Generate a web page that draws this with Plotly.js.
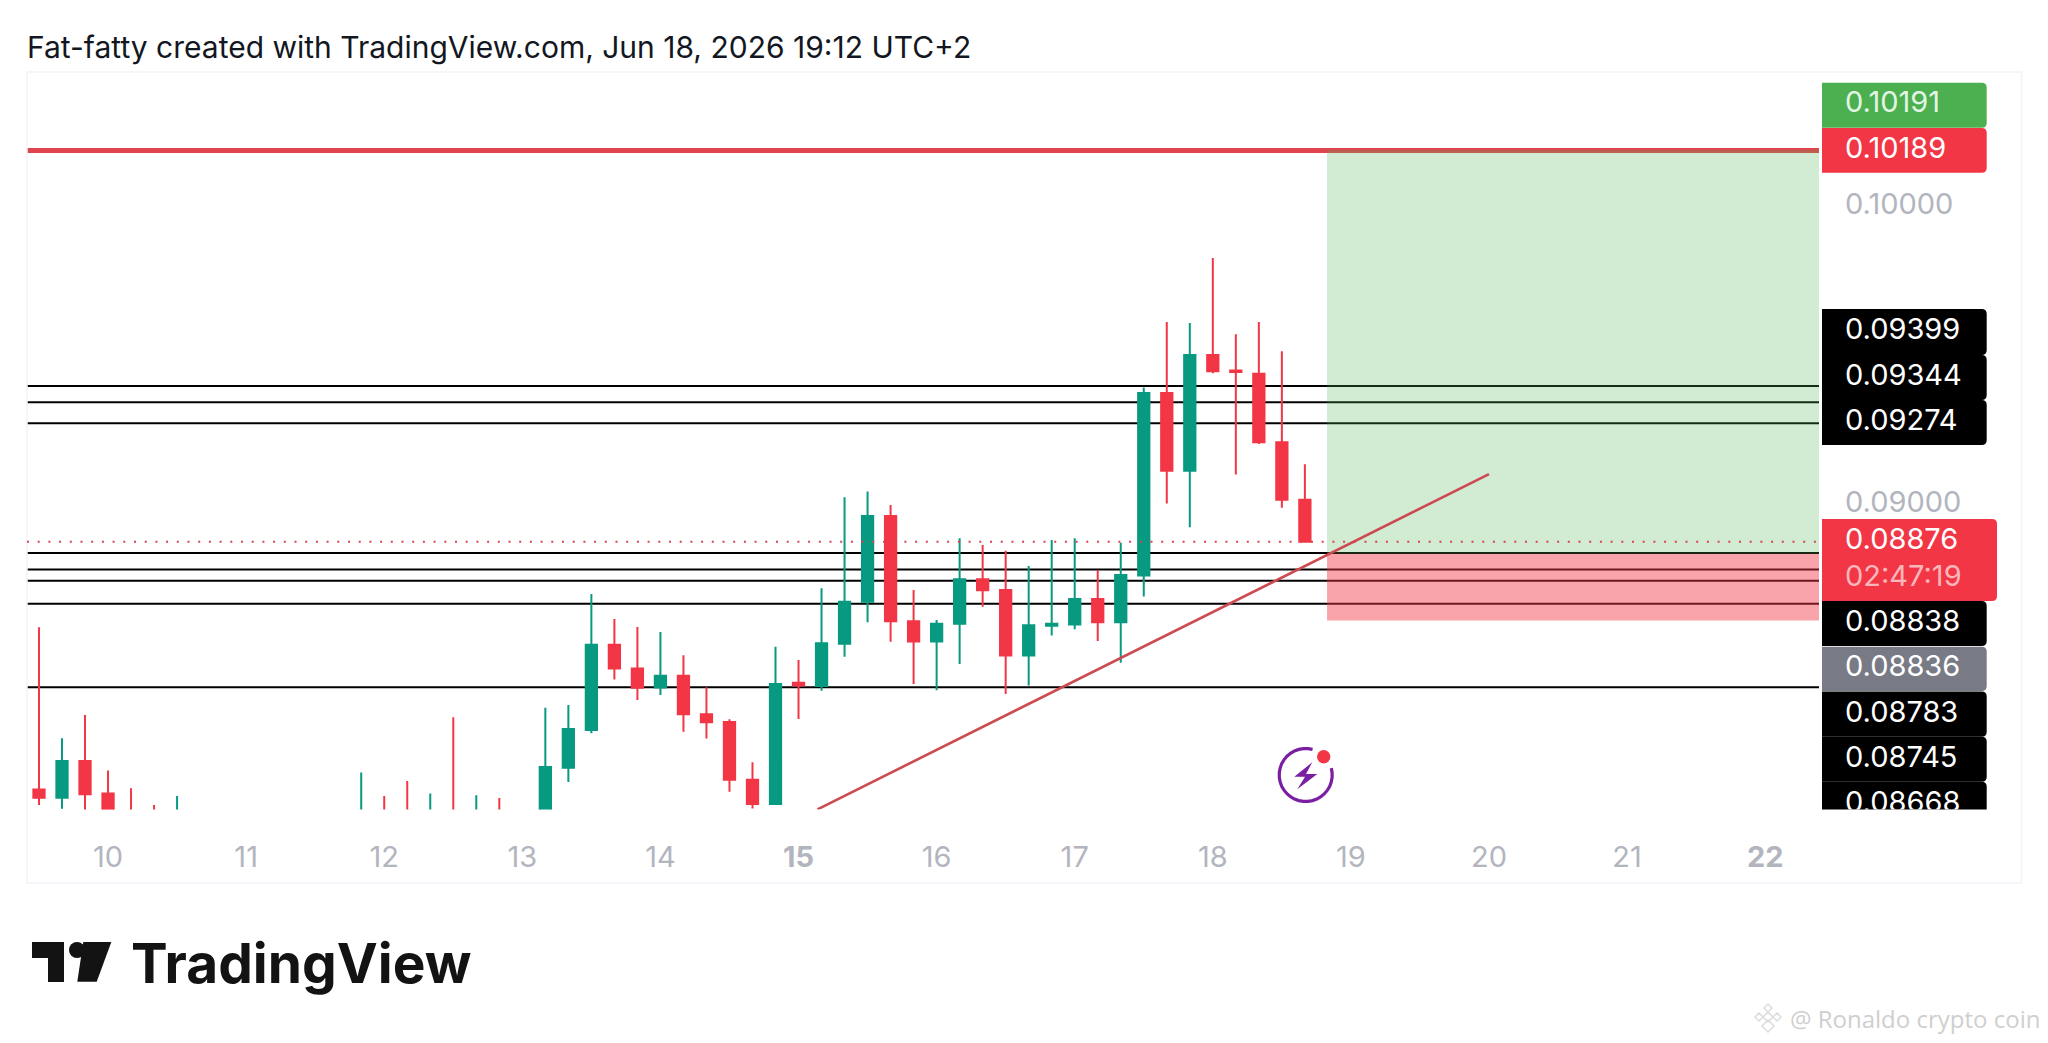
<!DOCTYPE html>
<html>
<head>
<meta charset="utf-8">
<script src="https://cdn.plot.ly/plotly-3.0.1.min.js"></script>
<style>html,body{margin:0;padding:0;background:#fff}#chart{width:2048px;height:1043px}</style>
</head>
<body>
<div id="chart"></div>
<script>
// ---- candles (4h) ----
const times = [
"2026-06-09 12:00","2026-06-09 16:00","2026-06-09 20:00","2026-06-10 00:00","2026-06-10 04:00","2026-06-10 08:00","2026-06-10 12:00",
"2026-06-11 20:00","2026-06-12 00:00","2026-06-12 04:00","2026-06-12 08:00","2026-06-12 12:00","2026-06-12 16:00","2026-06-12 20:00",
"2026-06-13 04:00","2026-06-13 08:00","2026-06-13 12:00","2026-06-13 16:00","2026-06-13 20:00",
"2026-06-14 00:00","2026-06-14 04:00","2026-06-14 08:00","2026-06-14 12:00","2026-06-14 16:00","2026-06-14 20:00",
"2026-06-15 00:00","2026-06-15 04:00","2026-06-15 08:00","2026-06-15 12:00","2026-06-15 16:00","2026-06-15 20:00",
"2026-06-16 00:00","2026-06-16 04:00","2026-06-16 08:00","2026-06-16 12:00","2026-06-16 16:00","2026-06-16 20:00",
"2026-06-17 00:00","2026-06-17 04:00","2026-06-17 08:00","2026-06-17 12:00","2026-06-17 16:00","2026-06-17 20:00",
"2026-06-18 00:00","2026-06-18 04:00","2026-06-18 08:00","2026-06-18 12:00","2026-06-18 16:00"];
const opens = [
.08045,.08017,.08140,.08031,.07960,.07960,.07950,
.07950,.07960,.07960,.07950,.07960,.07950,.07960,
.07950,.08118,.08244,.08530,.08451,
.08387,.08426,.08297,.08271,.08077,.07996,
.08403,.08392,.08534,.08675,.08962,.08609,
.08541,.08601,.08750,.08714,.08494,.08594,
.08598,.08684,.08606,.08763,.09375,.09114,
.09503,.09451,.09440,.09210,.09017];
const highs = [
.08589,.08217,.08295,.08108,.08049,.07993,.08023,
.08102,.08023,.08073,.08031,.08287,.08025,.08016,
.08319,.08328,.08701,.08617,.08590,
.08573,.08495,.08388,.08280,.08136,.08524,
.08479,.08720,.09025,.09045,.08999,.08714,
.08613,.08888,.08865,.08846,.08795,.08882,
.08888,.08781,.08873,.09394,.09613,.09610,
.09828,.09572,.09613,.09515,.09136];
const lows = [
.07993,.07980,.07950,.07950,.07940,.07940,.07940,
.07940,.07940,.07940,.07940,.07940,.07940,.07940,
.07940,.08070,.08233,.08414,.08345,
.08362,.08238,.08216,.08037,.07981,.07993,
.08281,.08376,.08490,.08606,.08540,.08399,
.08378,.08466,.08658,.08365,.08394,.08561,
.08582,.08543,.08470,.08692,.09004,.08925,
.09441,.09102,.09204,.08990,.08876];
const closes = [
.08017,.08140,.08029,.07970,.07950,.07950,.07960,
.07960,.07950,.07950,.07960,.07950,.07960,.07950,
.08120,.08248,.08530,.08451,.08386,
.08426,.08297,.08270,.08077,.07996,.08399,
.08394,.08535,.08675,.08962,.08609,.08541,
.08601,.08750,.08713,.08494,.08596,.08601,
.08684,.08606,.08764,.09375,.09114,.09503,
.09448,.09446,.09210,.09017,.08876];

// ---- axis ----
const dayTicks = ["2026-06-10","2026-06-11","2026-06-12","2026-06-13","2026-06-14","2026-06-15","2026-06-16","2026-06-17","2026-06-18","2026-06-19","2026-06-20","2026-06-21","2026-06-22"];
const dayLabels = ["10","11","12","13","14","<b>15</b>","16","17","18","19","20","21","<b>22</b>"];
const timeRange = ["2026-06-09 09:55","2026-06-22 09:21"];
const priceRange = [0.079775,0.104523];

// ---- drawings ----
const levels = [0.09399,0.09344,0.09274,0.08838,0.08783,0.08745,0.08668,0.08388];
const stopLine = 0.10189;
const lastPrice = 0.08876;
const targetPrice = 0.10191, entryPrice = 0.08836, stopPrice = 0.08612;
const positionStart = "2026-06-18 19:51";
const trendTimes = ["2026-06-15 03:18","2026-06-20 00:00"];
const trendPrices = [0.07978,0.09103];

// ---- price scale labels ----
const labelTexts = ["0.10191","0.10189","0.10000","0.09399","0.09344","0.09274","0.09000","0.08876","02:47:19","0.08838","0.08836","0.08783","0.08745","0.08668"];
const labelRows  = [105,150.5,207,332,378,423,505,541.5,579,624,669,714.5,759.5,805];
const labelInk   = ["#e3f5e4","#ffffff","#b2b5be","#ffffff","#ffffff","#ffffff","#b2b5be","#ffffff","#fbb6bc","#ffffff","#ffffff","#ffffff","#ffffff","#ffffff"];
const pills = [
  {c:"#4caf50",t:82.7,b:127.7,w:1986.7},
  {c:"#f23645",t:128,b:172.7,w:1986.7},
  {c:"#000000",t:309,b:355,w:1986.7},
  {c:"#000000",t:355,b:400,w:1986.7},
  {c:"#000000",t:400,b:445,w:1986.7},
  {c:"#f23645",t:519,b:601,w:1997},
  {c:"#000000",t:601,b:646,w:1986.7},
  {c:"#787b86",t:646.7,b:691,w:1986.7},
  {c:"#000000",t:691.5,b:736.7,w:1986.7},
  {c:"#000000",t:736.7,b:781.7,w:1986.7},
  {c:"#000000",t:781.7,b:830,w:1986.7}
];

const PX = x => x/2048, PY = y => 1 - y/1043;
function pxPath(pts, close){
  return pts.map((p,i)=>(i?'L':'M')+PX(p[0]).toFixed(5)+','+PY(p[1]).toFixed(5)).join(' ')+(close?' Z':'');
}
function pillPath(x0,x1,y0,y1,r){
  return `M${x0},${y0} L${x1-r},${y0} Q${x1},${y0} ${x1},${y0+r} L${x1},${y1-r} Q${x1},${y1} ${x1-r},${y1} L${x0},${y1} Z`;
}

const shapes = [];
levels.forEach(v=>shapes.push({type:'line',layer:'below',xref:'x domain',yref:'y',x0:0,x1:1,y0:v,y1:v,line:{color:'#000000',width:2}}));
shapes.push({type:'rect',layer:'below',xref:'x',yref:'y',x0:positionStart,x1:timeRange[1],y0:entryPrice,y1:targetPrice,fillcolor:'rgba(76,175,80,0.25)',line:{width:0}});
shapes.push({type:'rect',layer:'below',xref:'x',yref:'y',x0:positionStart,x1:timeRange[1],y0:stopPrice,y1:entryPrice,fillcolor:'rgba(242,54,69,0.45)',line:{width:0}});
shapes.push({type:'line',layer:'below',xref:'x domain',yref:'y',x0:0,x1:1,y0:stopLine,y1:stopLine,line:{color:'#e0454f',width:5}});
shapes.push({type:'line',layer:'above',xref:'x domain',yref:'y',x0:0,x1:1,y0:lastPrice,y1:lastPrice,line:{color:'#d9434f',width:2,dash:'2px,8.7px'}});
pills.forEach(p=>shapes.push({type:'path',layer:'below',xref:'x2',yref:'y2',path:pillPath(1822,p.w,p.t,p.b,5),fillcolor:p.c,line:{width:0}}));

// frame
shapes.push({type:'rect',layer:'below',xref:'paper',yref:'paper',x0:PX(27),x1:PX(2021.5),y0:PY(883),y1:PY(72),line:{color:'#f0f3fa',width:1.5},fillcolor:'rgba(0,0,0,0)'});

// TradingView mark
shapes.push({type:'path',xref:'paper',yref:'paper',fillcolor:'#131313',line:{width:0},path:pxPath([[32,942],[64,942],[64,982],[48,982],[48,958],[32,958]],true)});
shapes.push({type:'circle',xref:'paper',yref:'paper',x0:PX(69),x1:PX(85),y0:PY(958),y1:PY(942),fillcolor:'#131313',line:{width:0}});
shapes.push({type:'path',xref:'paper',yref:'paper',fillcolor:'#131313',line:{width:0},path:pxPath([[83.3,942],[111.3,942],[96.7,981.7],[77.3,981.7]],true)});

// lightning badge
const cx=1305.7, cy=775, rr=26.5, arc=[];
for(let a=-15;a>=-285;a-=9){arc.push([cx+rr*Math.cos(a*Math.PI/180),cy-rr*Math.sin(-a*Math.PI/180)*-1*-1]);}
const arcPts=[]; for(let a=-15;a<=285;a+=10){const t=a*Math.PI/180;arcPts.push([cx+rr*Math.cos(t),cy+rr*Math.sin(t)]);}
shapes.push({type:'path',xref:'paper',yref:'paper',path:pxPath(arcPts,false),fillcolor:'rgba(0,0,0,0)',line:{color:'#7b1fa2',width:3.2}});
shapes.push({type:'circle',xref:'paper',yref:'paper',x0:PX(1317),x1:PX(1330.4),y0:PY(763.4),y1:PY(750),fillcolor:'#f23645',line:{width:0}});
shapes.push({type:'path',xref:'paper',yref:'paper',fillcolor:'#7b1fa2',line:{width:0},
 path:pxPath([[1312.3,762.3],[1294.3,776.7],[1305,776.7],[1297.3,789.3],[1317.3,774],[1306,774]],true)});

// watermark icon
const wx=1768, wy=1017, wc='#dcdcdc';
[[0,0,5],[0,-9,4],[-9,0,4],[9,0,4],[0,9,6]].forEach(d=>{
  shapes.push({type:'path',xref:'paper',yref:'paper',fillcolor:'rgba(0,0,0,0)',line:{color:wc,width:1.5},
    path:pxPath([[wx+d[0],wy+d[1]-d[2]],[wx+d[0]+d[2],wy+d[1]],[wx+d[0],wy+d[1]+d[2]],[wx+d[0]-d[2],wy+d[1]]],true)});
});

const FONT='Inter, "Liberation Sans", sans-serif';
const traces=[
 {type:'candlestick',x:times,open:opens,high:highs,low:lows,close:closes,xaxis:'x',yaxis:'y',whiskerwidth:0,hoverinfo:'skip',
  increasing:{line:{color:'#089981',width:2},fillcolor:'#089981'},
  decreasing:{line:{color:'#f23645',width:2},fillcolor:'#f23645'}},
 {type:'scatter',mode:'lines',x:trendTimes,y:trendPrices,xaxis:'x',yaxis:'y',line:{color:'#cc4a50',width:2.6},hoverinfo:'skip'},
 {type:'scatter',mode:'text',x:labelTexts.map(()=>1845),y:labelRows,text:labelTexts,textposition:'middle right',
  textfont:{family:FONT,size:29,color:labelInk},xaxis:'x2',yaxis:'y2',hoverinfo:'skip'}
];

const layout={
 width:2048,height:1043,margin:{l:0,r:0,t:0,b:0,pad:0},paper_bgcolor:'#ffffff',plot_bgcolor:'rgba(0,0,0,0)',
 showlegend:false,boxgap:0.3,hovermode:false,
 title:{text:"Fat-fatty created with TradingView.com, Jun 18, 2026 19:12 UTC+2",x:27/2048,xanchor:'left',y:1-47/1043,yanchor:'middle',
   font:{family:FONT,size:30,color:'#131722'}},
 xaxis:{domain:[27/2048,1819/2048],type:'date',range:timeRange,rangeslider:{visible:false},showgrid:false,zeroline:false,showline:false,
   tickmode:'array',tickvals:dayTicks,ticktext:dayLabels,ticks:'outside',ticklen:22,tickcolor:'rgba(0,0,0,0)',tickangle:0,
   tickfont:{family:FONT,size:29,color:'#b2b5be'},anchor:'y'},
 yaxis:{domain:[1-809.5/1043,1-72/1043],range:priceRange,showgrid:false,zeroline:false,showline:false,showticklabels:false,ticks:'',anchor:'x'},
 xaxis2:{domain:[1819/2048,2021/2048],range:[1819,2021],visible:false,anchor:'y2'},
 yaxis2:{domain:[1-809.5/1043,1-72/1043],range:[809.5,72],visible:false,anchor:'x2'},
 shapes:shapes,
 annotations:[
  {xref:'paper',yref:'paper',x:PX(129),y:PY(963),xanchor:'left',yanchor:'middle',showarrow:false,text:'<b>TradingView</b>',
   font:{family:FONT,size:55,color:'#131313'}},
  {xref:'paper',yref:'paper',x:PX(2042),y:PY(1018),xanchor:'right',yanchor:'middle',showarrow:false,text:'@ Ronaldo crypto coin',
   font:{family:'"Open Sans", sans-serif',size:24,color:'#cfcfcf'}}
 ]
};
Plotly.newPlot('chart',traces,layout,{displayModeBar:false,responsive:false});
</script>
</body>
</html>
